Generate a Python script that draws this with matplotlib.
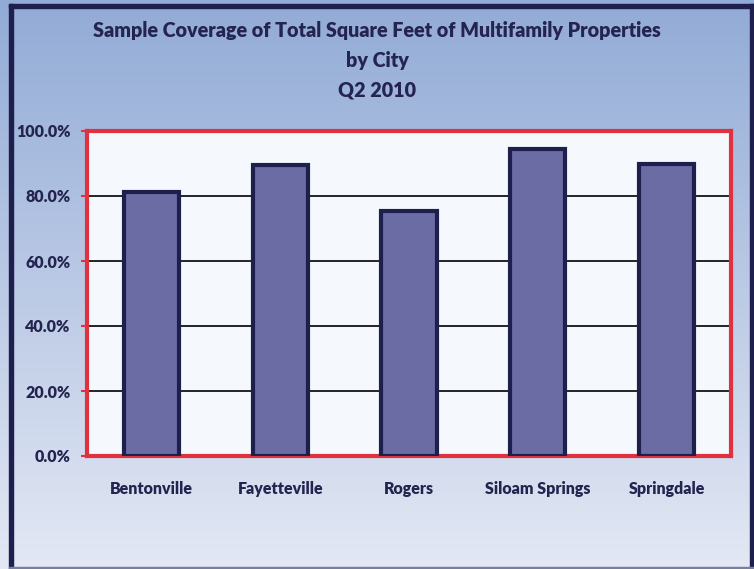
# Sample coverage bar chart, Q2 2010

import numpy as np
import matplotlib
matplotlib.use("Agg")
import matplotlib.pyplot as plt
from matplotlib.patches import Rectangle
from matplotlib.ticker import FuncFormatter, MultipleLocator

cities = ["Bentonville", "Fayetteville", "Rogers", "Siloam Springs", "Springdale"]
coverage = [0.811, 0.894, 0.754, 0.946, 0.898]
title = "Sample Coverage of Total Square Feet of Multifamily Properties\nby City\nQ2 2010"

navy = '#1f1f4e'
text_col = '#242450'
bar_fill = '#6a6ca3'
red = '#e0323e'

plt.rcParams['font.family'] = ['Lato', 'DejaVu Sans']
plt.rcParams['font.weight'] = 'heavy'

fig = plt.figure(figsize=(7.54, 5.69), dpi=100)

# gradient background
bg = fig.add_axes([0, 0, 1, 1], zorder=-10)
top = np.array([0x92, 0xab, 0xd6]) / 255
bot = np.array([0xe3, 0xe8, 0xf4]) / 255
t = np.linspace(0, 1, 256)[:, None]
grad = top * (1 - t) + bot * t
bg.imshow(grad[:, None, :].repeat(2, axis=1), aspect='auto', extent=[0, 1, 0, 1])
bg.set_xlim(0, 1)
bg.set_ylim(0, 1)
bg.axis('off')

# outer frame
W, H = 754, 569
fig.patches.append(Rectangle((9 / W, 0), 4 / W, 1 - 4 / H, transform=fig.transFigure, color=navy))
fig.patches.append(Rectangle((9 / W, 1 - 8 / H), 1 - 9 / W, 4 / H, transform=fig.transFigure, color=navy))
fig.patches.append(Rectangle((1 - 4 / W, 0), 4 / W, 1 - 4 / H, transform=fig.transFigure, color=navy))
fig.patches.append(Rectangle((9 / W, 0), 1 - 9 / W, 2 / H, transform=fig.transFigure, color='#7a7fa0'))

ax = fig.add_axes([87 / W, 1 - 456 / H, (731 - 87) / W, (456 - 131) / H])
ax.set_facecolor('#f5f9fd')
x = np.arange(len(cities))
ax.bar(x, coverage, width=0.43, color=bar_fill, edgecolor=navy, linewidth=3, zorder=3)

ax.set_xlim(-0.5, len(cities) - 0.5)
ax.set_ylim(0, 1)
ax.yaxis.set_major_locator(MultipleLocator(0.2))
ax.yaxis.set_major_formatter(FuncFormatter(lambda v, p: "%.1f%%" % (v * 100)))
ax.yaxis.grid(True, color='black', linewidth=1.2, zorder=1)
ax.set_axisbelow(True)
ax.set_xticks(x)
ax.set_xticklabels(cities)

for s in ax.spines.values():
    s.set_color(red)
    s.set_linewidth(3)
ax.tick_params(axis='y', colors=red, length=4, width=1.5, labelcolor=text_col, labelsize=11.5, pad=8)
ax.tick_params(axis='x', length=0, labelcolor=text_col, labelsize=11.5, pad=18)

fig.text(0.5, 1 - 60 / H, title, ha='center', va='center', fontsize=14.2,
         color=text_col, fontweight='heavy', linespacing=1.68)

plt.savefig("out.png", dpi=100)
